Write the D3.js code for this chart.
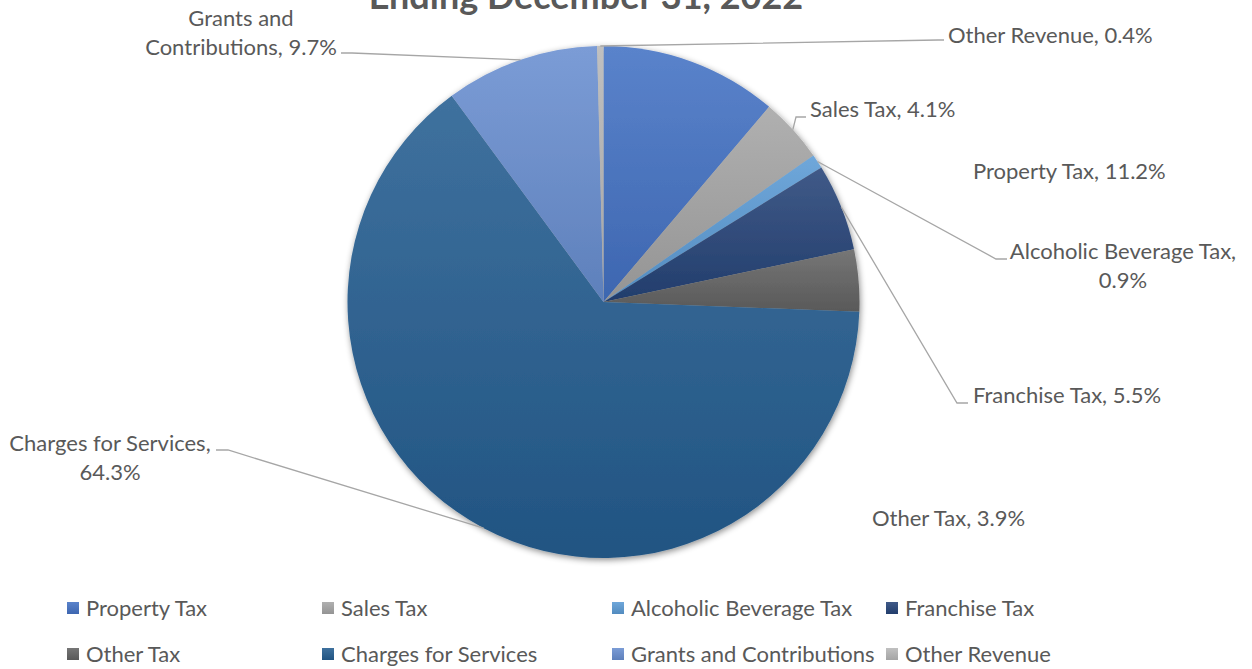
<!DOCTYPE html>
<html>
<head>
<meta charset="utf-8">
<script src="https://cdn.jsdelivr.net/npm/d3@7"></script>
<style>
  body { margin: 0; background: #ffffff; }
  svg { display: block; }
  text { font-family: Lato, "Noto Sans", sans-serif; fill: #595959; }
</style>
</head>
<body>
<svg id="chart" width="1252" height="669"></svg>
<script>
// Revenue sources, share of total (%)
const categories = [
  "Property Tax", "Sales Tax", "Alcoholic Beverage Tax", "Franchise Tax",
  "Other Tax", "Charges for Services", "Grants and Contributions", "Other Revenue"
];
const shares = [11.2, 4.1, 0.9, 5.5, 3.9, 64.3, 9.7, 0.4];
const sliceColors = [
  "#4472C4", "#A5A5A5", "#5B9BD5", "#264478",
  "#636363", "#255E91", "#698ED0", "#B7B7B7"
];
const titleText = "Ending December 31, 2022";

// Label placement: anchor point, alignment, words on first line, leader path
const labelLayout = [
  { x: 973,  y: 179, anchor: "start",  breakAfter: 0, leader: null },
  { x: 810,  y: 117, anchor: "start",  breakAfter: 0, leader: [[796, 117], [806, 117]] },
  { x: 1123, y: 259, anchor: "middle", breakAfter: 3, leader: [[996, 259], [1007, 259]] },
  { x: 973,  y: 403, anchor: "start",  breakAfter: 0, leader: [[957, 403], [968, 403]] },
  { x: 872,  y: 526, anchor: "start",  breakAfter: 0, leader: null },
  { x: 110,  y: 451, anchor: "middle", breakAfter: 3, leader: [[228, 450], [216, 450]] },
  { x: 241,  y: 26,  anchor: "middle", breakAfter: 2, leader: [[352, 53], [341, 53]] },
  { x: 948,  y: 43,  anchor: "start",  breakAfter: 0, leader: [[938, 40], [944, 40]] }
];
const lineGap = 29;
const fontSize = 22;

const svg = d3.select("#chart");
const cx = 603.5, cy = 302, radius = 256;

const defs = svg.append("defs");
const shadow = defs.append("filter").attr("id", "pieShadow")
  .attr("x", "-10%").attr("y", "-10%").attr("width", "120%").attr("height", "120%");
shadow.append("feDropShadow")
  .attr("dx", 1).attr("dy", 2).attr("stdDeviation", 3)
  .attr("flood-color", "#000").attr("flood-opacity", 0.45);

sliceColors.forEach((c, i) => {
  const g = defs.append("linearGradient").attr("id", "grad" + i)
    .attr("x1", 0).attr("y1", 0).attr("x2", 0).attr("y2", 1);
  g.append("stop").attr("offset", 0).attr("stop-color", d3.interpolateRgb(c, "#ffffff")(0.12));
  g.append("stop").attr("offset", 1).attr("stop-color", d3.color(c).darker(0.3).formatHex());
});

// Title (second line of the heading)
svg.append("text")
  .attr("x", 586).attr("y", 9)
  .attr("text-anchor", "middle")
  .style("font-weight", "bold")
  .style("font-size", "36px")
  .text(titleText);

const data = categories.map((name, i) => ({ name, value: shares[i], i }));
const pie = d3.pie().value(d => d.value).sort(null);
const arcs = pie(data);
const arc = d3.arc().innerRadius(0).outerRadius(radius);
const edge = d3.arc().innerRadius(radius).outerRadius(radius);

const pieG = svg.append("g").attr("transform", `translate(${cx},${cy})`);

// Leader lines sit beneath the slices
const leaderG = svg.append("g");
arcs.forEach(a => {
  const L = labelLayout[a.data.i];
  if (!L.leader) return;
  const [ex, ey] = edge.centroid(a);
  const pts = [[cx + ex, cy + ey]].concat(L.leader);
  leaderG.append("path")
    .attr("d", d3.line()(pts))
    .attr("fill", "none")
    .attr("stroke", "#A6A6A6")
    .attr("stroke-width", 1.3);
});

const slicesG = pieG.append("g").attr("filter", "url(#pieShadow)");
slicesG.selectAll("path").data(arcs).join("path")
  .attr("d", arc)
  .attr("fill", d => `url(#grad${d.data.i})`);

// Data labels
const fmt = d3.format(".1f");
arcs.forEach(a => {
  const L = labelLayout[a.data.i];
  const words = `${a.data.name}, ${fmt(a.data.value)}%`.split(" ");
  const lines = L.breakAfter ? [words.slice(0, L.breakAfter).join(" "), words.slice(L.breakAfter).join(" ")] : [words.join(" ")];
  const t = svg.append("text")
    .attr("text-anchor", L.anchor)
    .style("font-size", fontSize + "px");
  lines.forEach((s, k) => {
    t.append("tspan").attr("x", L.x).attr("y", L.y + k * lineGap).text(s);
  });
});

// Legend: four columns, two rows
const legendCols = [67, 322, 612, 886];
const legendRows = [608, 654];
const legend = svg.append("g");
data.forEach((d, i) => {
  const x = legendCols[i % 4], y = legendRows[Math.floor(i / 4)];
  legend.append("rect")
    .attr("x", x).attr("y", y - 6).attr("width", 12).attr("height", 12)
    .attr("fill", `url(#grad${i})`);
  legend.append("text")
    .attr("x", x + 19).attr("y", y)
    .attr("dy", "0.35em")
    .style("font-size", fontSize + "px")
    .text(d.name);
});
</script>
</body>
</html>
